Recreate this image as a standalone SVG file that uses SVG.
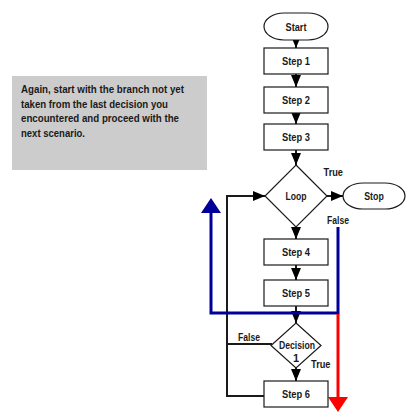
<svg xmlns="http://www.w3.org/2000/svg" width="420" height="420" viewBox="0 0 420 420">
<defs>
<style>
.box{fill:#fff;stroke:#1a1a1a;stroke-width:1.2}
.t{font-family:"Liberation Sans",Arial,sans-serif;font-weight:bold;font-size:11px;fill:#1a1a1a;text-anchor:middle}
.lbl{font-family:"Liberation Sans",Arial,sans-serif;font-weight:bold;font-size:11px;fill:#1a1a1a}
.note{font-family:"Liberation Sans",Arial,sans-serif;font-weight:bold;font-size:11.5px;fill:#1a1a1a}
.c{fill:none;stroke:#1a1a1a;stroke-width:2}
</style>
<marker id="ah" markerUnits="userSpaceOnUse" markerWidth="12" markerHeight="10" refX="12" refY="5" orient="auto">
<path d="M0,0 L12,5 L0,10 z" fill="#000"/>
</marker>
</defs>
<rect width="420" height="420" fill="#fff"/>
<g id="note">
<rect x="12" y="76" width="195" height="94" fill="#cccccc"/>
<text class="note" x="21" y="93" textLength="163" lengthAdjust="spacingAndGlyphs">Again, start with the branch not yet</text>
<text class="note" x="21" y="107.5" textLength="147" lengthAdjust="spacingAndGlyphs">taken from the last decision you</text>
<text class="note" x="21" y="122" textLength="158" lengthAdjust="spacingAndGlyphs">encountered and proceed with the</text>
<text class="note" x="21" y="136.5" textLength="64" lengthAdjust="spacingAndGlyphs">next scenario.</text>
</g>
<g id="connectors">
<line class="c" x1="296" y1="40" x2="296" y2="48" marker-end="url(#ah)"/>
<line class="c" x1="296" y1="74" x2="296" y2="87" marker-end="url(#ah)"/>
<line class="c" x1="296" y1="113" x2="296" y2="124" marker-end="url(#ah)"/>
<line class="c" x1="296" y1="150" x2="296" y2="165" marker-end="url(#ah)"/>
<line class="c" x1="327" y1="196" x2="343" y2="196" marker-end="url(#ah)"/>
<line class="c" x1="296" y1="227" x2="296" y2="239" marker-end="url(#ah)"/>
<line class="c" x1="296" y1="265" x2="296" y2="280" marker-end="url(#ah)"/>
<line class="c" x1="296" y1="306" x2="296" y2="323" marker-end="url(#ah)"/>
<line class="c" x1="296" y1="368" x2="296" y2="381" marker-end="url(#ah)"/>
<polyline class="c" points="272,344 227,344"/>
<polyline class="c" points="264,396 227,396 227,196 265,196" marker-end="url(#ah)"/>
<polyline fill="none" stroke="#000099" stroke-width="3" points="338,227 338,313 211,313 211,212"/>
<polygon fill="#000099" points="201,213 221,213 211,198"/>
<line stroke="#ff0000" stroke-width="3" x1="338" y1="314" x2="338" y2="398"/>
<polygon fill="#ff0000" points="328,397 348,397 338,412"/>
<text class="lbl" x="323.5" y="176" textLength="19.5" lengthAdjust="spacingAndGlyphs">True</text>
<text class="lbl" x="327" y="223.5" textLength="22" lengthAdjust="spacingAndGlyphs">False</text>
<text class="lbl" x="238" y="341" textLength="22" lengthAdjust="spacingAndGlyphs">False</text>
<text class="lbl" x="311" y="368" textLength="19.5" lengthAdjust="spacingAndGlyphs">True</text>
</g>
<g id="start"><rect class="box" x="264" y="13" width="64" height="27" rx="20" ry="13.5"/><text class="t" x="296" y="30.5" textLength="21" lengthAdjust="spacingAndGlyphs">Start</text></g>
<g id="step1"><rect class="box" x="264" y="48" width="64" height="26"/><text class="t" x="296" y="65" textLength="28" lengthAdjust="spacingAndGlyphs">Step 1</text></g>
<g id="step2"><rect class="box" x="264" y="87" width="64" height="26"/><text class="t" x="296" y="104" textLength="28" lengthAdjust="spacingAndGlyphs">Step 2</text></g>
<g id="step3"><rect class="box" x="264" y="124" width="64" height="26"/><text class="t" x="296" y="141" textLength="28" lengthAdjust="spacingAndGlyphs">Step 3</text></g>
<g id="loop"><polygon class="box" points="296,165 327,196 296,227 265,196"/><text class="t" x="296" y="199.5" textLength="21" lengthAdjust="spacingAndGlyphs">Loop</text></g>
<g id="stop"><rect class="box" x="343" y="183" width="62" height="26" rx="20" ry="13"/><text class="t" x="374" y="200" textLength="19.5" lengthAdjust="spacingAndGlyphs">Stop</text></g>
<g id="step4"><rect class="box" x="264" y="239" width="64" height="26"/><text class="t" x="296" y="256" textLength="28" lengthAdjust="spacingAndGlyphs">Step 4</text></g>
<g id="step5"><rect class="box" x="264" y="280" width="64" height="26"/><text class="t" x="296" y="297" textLength="28" lengthAdjust="spacingAndGlyphs">Step 5</text></g>
<g id="decision1"><polygon class="box" points="296,323 321,345.5 296,368 271,345.5"/><text class="t" x="297" y="349" textLength="36" lengthAdjust="spacingAndGlyphs">Decision</text><text class="t" x="296" y="362">1</text></g>
<g id="step6"><rect class="box" x="264" y="381" width="64" height="26"/><text class="t" x="296" y="398" textLength="28" lengthAdjust="spacingAndGlyphs">Step 6</text></g>
</svg>
